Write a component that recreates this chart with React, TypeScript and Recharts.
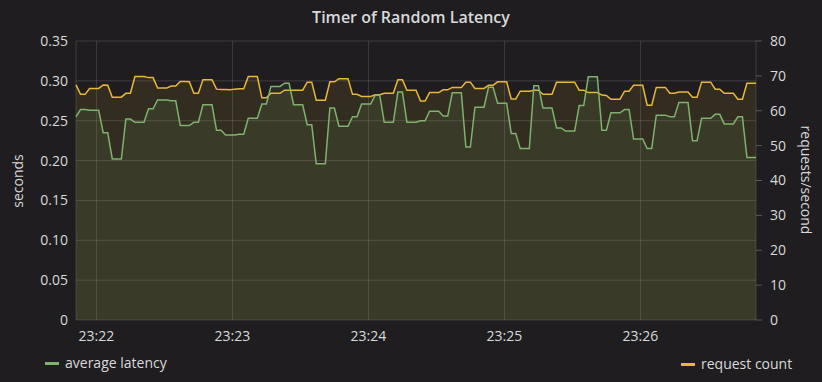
import React from "react";
import {
  Area,
  CartesianGrid,
  ComposedChart,
  XAxis,
  YAxis,
} from "recharts";

// samples every 2 s, first one at 23:21:51
const startSecond = 23 * 3600 + 21 * 60 + 51;
const stepSeconds = 2;

const averageLatency = [
  0.255, 0.264, 0.264, 0.263, 0.263, 0.263, 0.235, 0.235, 0.202, 0.202,
  0.202, 0.252, 0.252, 0.248, 0.248, 0.248, 0.265, 0.265, 0.276, 0.276,
  0.276, 0.275, 0.275, 0.244, 0.244, 0.244, 0.248, 0.248, 0.27, 0.27,
  0.27, 0.238, 0.238, 0.232, 0.232, 0.232, 0.233, 0.233, 0.253, 0.253,
  0.253, 0.271, 0.271, 0.293, 0.293, 0.293, 0.297, 0.297, 0.27, 0.27,
  0.27, 0.245, 0.245, 0.196, 0.196, 0.196, 0.266, 0.266, 0.243, 0.243,
  0.243, 0.255, 0.255, 0.271, 0.271, 0.271, 0.282, 0.282, 0.248, 0.248,
  0.248, 0.286, 0.286, 0.248, 0.248, 0.248, 0.25, 0.25, 0.262, 0.262,
  0.262, 0.256, 0.256, 0.285, 0.285, 0.285, 0.217, 0.217, 0.267, 0.267,
  0.267, 0.292, 0.292, 0.272, 0.272, 0.272, 0.234, 0.234, 0.215, 0.215,
  0.215, 0.294, 0.294, 0.266, 0.266, 0.266, 0.241, 0.241, 0.237, 0.237,
  0.237, 0.269, 0.269, 0.305, 0.305, 0.305, 0.238, 0.238, 0.26, 0.26,
  0.26, 0.264, 0.264, 0.227, 0.227, 0.227, 0.215, 0.215, 0.257, 0.257,
  0.257, 0.255, 0.255, 0.273, 0.273, 0.273, 0.225, 0.225, 0.253, 0.253,
  0.253, 0.258, 0.258, 0.246, 0.246, 0.246, 0.255, 0.255, 0.204, 0.204,
  0.204,
];

const requestCount = [
  67.4, 64.7, 64.7, 66.4, 66.4, 66.4, 67.4, 67.3, 63.9, 63.9,
  63.9, 65.0, 65.0, 69.8, 69.8, 69.8, 69.5, 69.5, 66.5, 66.5,
  66.5, 67.1, 67.1, 68.4, 68.4, 68.3, 65.0, 65.0, 68.9, 68.9,
  68.9, 66.2, 66.1, 66.1, 66.0, 66.2, 66.3, 66.3, 69.8, 69.8,
  69.8, 63.7, 63.7, 65.0, 65.0, 65.0, 65.9, 65.9, 65.9, 65.9,
  65.9, 68.2, 68.2, 63.0, 63.0, 63.0, 68.3, 68.3, 69.2, 69.2,
  69.2, 64.7, 64.7, 64.1, 64.1, 64.1, 64.6, 64.6, 65.0, 65.0,
  65.0, 68.9, 68.9, 65.9, 65.9, 65.9, 62.8, 62.8, 65.2, 65.2,
  65.2, 66.0, 66.0, 66.7, 66.7, 66.7, 68.2, 68.2, 66.4, 66.4,
  66.4, 67.3, 67.3, 68.3, 68.3, 68.3, 63.4, 63.4, 65.6, 65.6,
  65.6, 65.9, 65.9, 64.7, 64.7, 64.7, 68.2, 68.2, 68.2, 68.2,
  68.2, 65.9, 65.9, 65.2, 65.2, 65.2, 64.5, 64.4, 63.3, 63.3,
  63.3, 65.6, 65.6, 67.3, 67.3, 67.3, 61.6, 61.6, 66.7, 66.7,
  66.7, 65.0, 65.0, 65.4, 65.4, 65.4, 63.9, 63.9, 68.2, 68.2,
  68.2, 66.2, 66.2, 65.0, 65.0, 65.0, 63.3, 63.3, 67.9, 67.9,
  67.9,
];

const timeTicks = [84120, 84180, 84240, 84300, 84360]; // 23:22 .. 23:26
const secondsTicks = [0, 0.05, 0.1, 0.15, 0.2, 0.25, 0.3, 0.35];
const rateTicks = [0, 10, 20, 30, 40, 50, 60, 70, 80];

const data = averageLatency.map((latency, i) => ({
  t: startSecond + i * stepSeconds,
  latency,
  requests: requestCount[i],
}));

const GREEN = "#7EB26D";
const YELLOW = "#EAB839";
const TEXT = "#d8d9da";
const BG = "#1f1d1f";
const FONT = "'Open Sans', sans-serif";

const fmtTime = (t: number) => {
  const h = Math.floor(t / 3600);
  const m = Math.floor((t % 3600) / 60);
  return `${h}:${String(m).padStart(2, "0")}`;
};

const tickStyle = { fill: TEXT, fontSize: 14, fontFamily: FONT };

export default function App() {
  return (
    <div
      style={{
        position: "absolute",
        left: 0,
        top: 0,
        width: 822,
        height: 382,
        background: BG,
        fontFamily: FONT,
        color: TEXT,
        overflow: "hidden",
      }}
    >
      <div
        style={{
          position: "absolute",
          top: 6,
          left: 0,
          width: 822,
          textAlign: "center",
          fontSize: 16,
          fontWeight: 600,
          lineHeight: "22px",
        }}
      >
        Timer of Random Latency
      </div>

      <ComposedChart
        width={822}
        height={382}
        data={data}
        margin={{ top: 41, right: 0, bottom: 32, left: 0 }}
      >
        <CartesianGrid
          yAxisId="left"
          stroke="#ffffff"
          strokeOpacity={0.14}
          horizontalValues={secondsTicks}
        />
        <XAxis
          dataKey="t"
          type="number"
          domain={["dataMin", "dataMax"]}
          ticks={timeTicks}
          tickFormatter={fmtTime}
          axisLine={false}
          tickLine={false}
          tickSize={0}
          tickMargin={11}
          height={30}
          tick={tickStyle}
        />
        <YAxis
          yAxisId="left"
          domain={[0, 0.35]}
          ticks={secondsTicks}
          tickFormatter={(v: number) => (v === 0 ? "0" : v.toFixed(2))}
          axisLine={false}
          tickLine={false}
          tickSize={0}
          tickMargin={8}
          width={76}
          tick={tickStyle}
        />
        <YAxis
          yAxisId="right"
          orientation="right"
          domain={[0, 80]}
          ticks={rateTicks}
          axisLine={false}
          tickLine={{ stroke: "#5a5a5a" }}
          tickSize={6}
          tickMargin={8}
          width={66}
          tick={{ ...tickStyle, textAnchor: "start" }}
        />
        <Area
          yAxisId="right"
          type="linear"
          dataKey="requests"
          stroke={YELLOW}
          strokeWidth={1.5}
          fill={YELLOW}
          fillOpacity={0.1}
          dot={false}
          activeDot={false}
          isAnimationActive={false}
        />
        <Area
          yAxisId="left"
          type="linear"
          dataKey="latency"
          stroke={GREEN}
          strokeWidth={1.5}
          fill={GREEN}
          fillOpacity={0.1}
          dot={false}
          activeDot={false}
          isAnimationActive={false}
        />
      </ComposedChart>

      <div
        style={{
          position: "absolute",
          left: 17,
          top: 181,
          transform: "translate(-50%, -50%) rotate(-90deg)",
          fontSize: 14,
          whiteSpace: "nowrap",
        }}
      >
        seconds
      </div>
      <div
        style={{
          position: "absolute",
          left: 806,
          top: 180,
          transform: "translate(-50%, -50%) rotate(90deg)",
          fontSize: 14,
          whiteSpace: "nowrap",
        }}
      >
        requests/second
      </div>

      {/* legend */}
      <div style={{ position: "absolute", left: 45, top: 353, display: "flex", alignItems: "center", fontSize: 14, lineHeight: "20px" }}>
        <span style={{ width: 14, height: 3, background: GREEN, marginRight: 6 }} />
        average latency
      </div>
      <div style={{ position: "absolute", left: 681, top: 354, display: "flex", alignItems: "center", fontSize: 14, lineHeight: "20px" }}>
        <span style={{ width: 14, height: 3, background: YELLOW, marginRight: 6 }} />
        request count
      </div>
    </div>
  );
}
